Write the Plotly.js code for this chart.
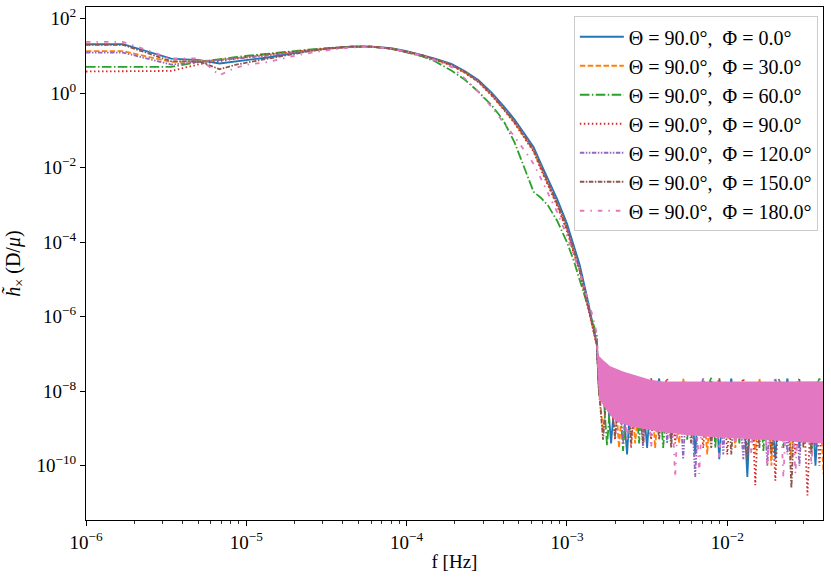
<!DOCTYPE html>
<html>
<head>
<meta charset="utf-8">
<script src="https://cdn.plot.ly/plotly-3.0.1.min.js"></script>
<style>html,body{margin:0;padding:0;background:#fff;}#chart{width:831px;height:578px;}</style>
</head>
<body>
<div id="chart"></div>
<script>
// ---- data ----
const SERIES_NAMES = [
  "Θ = 90.0°,\u00a0 Φ = 0.0°",
  "Θ = 90.0°,\u00a0 Φ = 30.0°",
  "Θ = 90.0°,\u00a0 Φ = 60.0°",
  "Θ = 90.0°,\u00a0 Φ = 90.0°",
  "Θ = 90.0°,\u00a0 Φ = 120.0°",
  "Θ = 90.0°,\u00a0 Φ = 150.0°",
  "Θ = 90.0°,\u00a0 Φ = 180.0°"
];

// frequencies of the smooth (low-frequency) part [Hz]
const SMOOTH_F = [1.0e-6, 1.7e-6, 3.4e-6, 5.1e-6, 6.8e-6, 8.5e-6, 1.02e-5, 1.36e-5, 1.87e-5, 2.55e-5,
  3.4e-5, 4.5e-5, 6.0e-5, 8.0e-5, 1.0e-4, 1.25e-4, 1.5e-4, 1.9e-4, 2.3e-4, 2.8e-4,
  3.4e-4, 4.0e-4, 4.7e-4, 5.5e-4, 6.2e-4, 6.9e-4, 7.6e-4, 8.7e-4, 1.0e-3, 1.1e-3,
  1.2e-3, 1.32e-3, 1.44e-3, 1.535e-3];

const H_PHI0 = [20.7, 20.7, 8.51, 7.76, 6.31, 7.08, 7.76, 9.12, 11.5, 14.1,
  16.2, 17.8, 17.8, 16.2, 13.5, 10.7, 8.51, 6.17, 3.98, 2.29,
  1.02, 0.468, 0.200, 0.0759, 0.0355, 0.0126, 0.00525, 0.00141, 3.16e-4, 8.91e-5,
  2.51e-5, 4.17e-6, 7.59e-7, 1.95e-7];
const H_PHI30 = [13.5, 13.5, 6.92, 7.24, 7.94, 8.71, 9.55, 10.7, 12.6, 14.5,
  16.2, 17.8, 17.8, 15.8, 13.0, 10.2, 8.04, 5.75, 3.63, 2.04,
  0.881, 0.394, 0.166, 0.0617, 0.0282, 0.00933, 0.0038, 0.001, 2.19e-4, 6.03e-5,
  1.74e-5, 2.95e-6, 6.03e-7, 1.74e-7];
const H_PHI60 = [5.11, 5.11, 5.13, 6.92, 8.32, 9.33, 10.2, 11.7, 13.5, 15.1,
  16.6, 17.8, 17.8, 15.5, 12.6, 9.77, 7.24, 4.07, 2.34, 1.10,
  0.468, 0.191, 0.049, 0.00832, 0.00224, 0.00155, 9.77e-4, 3.72e-4, 1.0e-4, 3.31e-5,
  1.02e-5, 2.82e-6, 8.32e-7, 3.16e-7];
const H_PHI90 = [3.84, 3.84, 3.98, 6.03, 7.41, 8.51, 9.55, 11.2, 12.9, 14.8,
  16.4, 17.8, 17.8, 15.8, 12.9, 10.1, 7.94, 5.62, 3.55, 2.0,
  0.851, 0.380, 0.158, 0.0589, 0.0266, 0.00871, 0.00355, 9.33e-4, 2.0e-4, 5.37e-5,
  1.58e-5, 2.75e-6, 5.75e-7, 1.70e-7];
const H_PHI120 = [12.4, 12.4, 5.89, 6.92, 7.59, 8.32, 9.12, 10.2, 12.0, 14.1,
  16.2, 17.8, 17.8, 16.0, 13.2, 10.5, 8.22, 5.89, 3.80, 2.14,
  0.955, 0.427, 0.180, 0.0676, 0.0309, 0.0107, 0.00437, 0.00115, 2.51e-4, 6.92e-5,
  1.91e-5, 3.24e-6, 6.61e-7, 1.82e-7];
const H_PHI150 = [20.0, 20.0, 7.24, 7.08, 4.43, 5.75, 6.76, 8.51, 11.0, 13.8,
  16.0, 17.8, 17.8, 16.0, 13.2, 10.5, 8.22, 5.89, 3.76, 2.14,
  0.933, 0.417, 0.176, 0.0661, 0.0302, 0.0105, 0.00427, 0.00112, 2.45e-4, 6.76e-5,
  1.86e-5, 3.16e-6, 6.46e-7, 1.82e-7];
const H_PHI180 = [23.9, 23.9, 8.57, 8.57, 3.05, 4.79, 5.89, 6.92, 9.55, 12.3,
  14.8, 17.0, 17.6, 15.8, 13.0, 10.2, 7.76, 5.13, 2.51, 1.10,
  0.417, 0.170, 0.0692, 0.0269, 0.0126, 0.00501, 0.00219, 6.31e-4, 1.48e-4, 4.68e-5,
  1.58e-5, 3.98e-6, 1.12e-6, 3.55e-7];

// frequencies of the noisy high-frequency part [Hz]
const NOISE_F = [0.001585, 0.001679, 0.001778, 0.001884, 0.001995, 0.002113, 0.002239, 0.002371, 0.002512, 0.002661,
  0.002818, 0.002985, 0.003162, 0.003350, 0.003548, 0.003758, 0.003981, 0.004217, 0.004467, 0.004732,
  0.005012, 0.005309, 0.005623, 0.005957, 0.006310, 0.006683, 0.007079, 0.007499, 0.007943, 0.008414,
  0.008913, 0.009441, 0.01, 0.01059, 0.01122, 0.01189, 0.01259, 0.01334, 0.01413, 0.01496,
  0.01585, 0.01679, 0.01778, 0.01884, 0.01995, 0.02113, 0.02239, 0.02371, 0.02512, 0.02661,
  0.02818, 0.02985, 0.03162, 0.03350, 0.03548, 0.03758, 0.03981];

const N_PHI0 = [1e-8,6e-9,1.2e-8,4e-10,8e-9,1e-8,5e-9,2e-10,1.2e-8,4e-9,
  1e-8,6e-9,3e-10,1.2e-8,5e-9,2.2e-8,4e-9,1e-8,5e-10,8e-9,
  1.2e-8,4e-9,1e-8,6e-9,2e-10,1.2e-8,5e-9,1e-8,3e-9,1.2e-8,
  1.5e-10,8e-9,5e-9,2.2e-8,4e-9,1e-8,6e-9,5e-11,1.2e-8,4e-9,
  1e-8,6e-9,1.2e-8,3e-9,1.5e-10,1e-8,5e-9,2.2e-8,4e-9,1e-8,
  3e-10,1.2e-8,5e-9,1e-8,1e-10,6e-9,1.2e-8];
const N_PHI30 = [1.2e-8,8e-10,1e-8,7e-9,1.2e-8,3e-10,1e-8,5e-9,1.2e-8,4e-10,
  6e-9,1e-8,4e-9,1.2e-8,3e-10,8e-9,1.2e-8,5e-9,1e-8,4e-9,
  4e-10,2.2e-8,6e-9,1.2e-8,4e-9,1e-8,6e-9,2e-10,1.2e-8,5e-9,
  1e-8,4e-9,1.2e-8,6e-9,3e-10,1e-8,5e-9,1.2e-8,4e-9,2e-10,
  2.2e-8,6e-9,1e-8,1e-10,1.2e-8,5e-9,1e-8,4e-9,1.5e-10,1.2e-8,
  6e-9,1e-8,5e-10,1.2e-8,4e-9,1e-8,6e-11];
const N_PHI60 = [8e-9,1.2e-8,3.5e-10,1e-8,6e-9,1.2e-8,2.5e-10,1e-8,5e-9,1.2e-8,
  4e-10,2.2e-8,6e-9,1e-8,4e-9,1.2e-8,3e-10,1e-8,6e-9,1.2e-8,
  4e-9,1e-8,5e-10,1.2e-8,6e-9,1e-8,4e-9,1.2e-8,2.3e-8,3e-10,
  1e-8,6e-9,1.2e-8,4e-9,1e-8,4e-10,1.2e-8,6e-9,1e-8,4e-9,
  1.2e-8,2.5e-10,1e-8,6e-9,1.2e-8,2.2e-8,3e-10,1e-8,5e-9,1.2e-8,
  4e-9,1e-8,6e-9,2e-10,1.2e-8,2.2e-8,1e-8];
const N_PHI90 = [1e-8,7e-9,1.2e-8,8e-9,5e-10,1e-8,6e-9,1.2e-8,3e-10,1e-8,
  5e-9,1.2e-8,4e-9,5e-10,1e-8,6e-9,1.2e-8,2.2e-8,5e-9,4e-10,
  1e-8,6e-9,1.2e-8,4e-9,1e-8,6e-9,3e-10,1.2e-8,5e-9,1e-8,
  4e-9,1.2e-8,2e-10,1e-8,6e-9,1.2e-8,2.2e-8,5e-9,1e-8,3e-11,
  1.2e-8,6e-9,1e-8,4e-9,4e-11,1.2e-8,6e-9,1e-8,5e-9,2e-10,
  1.2e-8,6e-9,1.6e-11,1e-8,5e-9,1e-10,1.2e-8];
const N_PHI120 = [1.2e-8,1e-8,7e-9,1.2e-8,8e-9,1e-8,4e-10,1.2e-8,5e-9,2.2e-8,
  6e-9,3e-10,1e-8,5e-9,1.2e-8,4e-9,1e-8,4e-10,1.2e-8,6e-9,
  1e-8,1.5e-10,1.2e-8,5e-9,5e-11,1e-8,2.2e-8,6e-9,1e-8,4e-9,
  1.2e-8,2e-10,1e-8,6e-9,1.2e-8,4e-9,1.5e-10,1e-8,6e-9,1.2e-8,
  4e-9,1e-8,1e-10,1.2e-8,2.2e-8,6e-9,1e-8,2e-10,1.2e-8,5e-9,
  1e-10,1e-8,6e-9,1.2e-8,3e-10,1e-8,5e-9];
const N_PHI150 = [1e-8,5e-10,1.2e-8,7e-9,6e-10,1e-8,6e-9,1.2e-8,4e-10,1e-8,
  5e-9,4e-10,1.2e-8,2.2e-8,6e-9,5e-10,1e-8,1.2e-8,3e-10,1e-8,
  6e-9,1.2e-8,4e-9,4e-10,1e-8,6e-9,1.2e-8,4e-9,3e-10,1e-8,
  2.2e-8,6e-9,1.2e-8,2e-10,1e-8,5e-9,1.2e-8,1.5e-10,1e-8,6e-9,
  3e-10,1.2e-8,5e-9,2e-10,1e-8,1.2e-8,5e-10,1e-8,2.5e-11,1.2e-8,
  2.2e-8,3e-10,1e-8,2e-10,1.2e-8,6e-9,5e-10];
const N_PHI180 = [1e-8,1.2e-8,6e-9,1e-8,1.2e-8,8e-9,1e-8,5e-10,1.2e-8,6e-9,
  1e-8,4e-9,1.2e-8,3e-10,1e-8,6e-9,1.2e-8,4e-9,1e-8,5e-11,
  1.2e-8,6e-9,1e-8,4e-9,1.2e-8,6e-11,1e-8,6e-9,1.2e-8,4e-9,
  1.5e-10,1e-8,6e-9,1.2e-8,3e-10,1e-8,4e-9,1.2e-8,2e-10,1e-8,
  6e-9,1.2e-8,1e-10,1e-8,4e-9,1.2e-8,5e-11,1e-8,6e-9,6e-11,
  1.2e-8,4e-9,1e-8,1e-10,1.2e-8,6e-9,3e-10];

// envelope of the dense noise band (upper and lower edge)
const BAND_TOP_F = [1.535e-3, 1.585e-3, 1.698e-3, 1.862e-3, 2.239e-3, 2.818e-3, 3.311e-3, 3.981e-3, 1.0e-2, 1.995e-2, 3.981e-2];
const BAND_TOP   = [1.95e-7, 8.91e-8, 6.61e-8, 4.68e-8, 3.39e-8, 2.51e-8, 2.04e-8, 1.82e-8, 1.78e-8, 1.82e-8, 1.86e-8];
const BAND_BOT_F = [1.535e-3, 1.585e-3, 1.698e-3, 1.862e-3, 2.042e-3, 2.512e-3, 3.981e-3, 6.31e-3, 1.0e-2, 1.585e-2, 2.512e-2, 3.981e-2];
const BAND_BOT   = [1.26e-7, 6.31e-9, 3.98e-9, 2.24e-9, 1.51e-9, 1.12e-9, 7.94e-10, 6.31e-10, 5.62e-10, 5.01e-10, 4.47e-10, 3.98e-10];

const X_TICKS = [1e-6, 1e-5, 1e-4, 1e-3, 1e-2];
const X_TICKTEXT = ["10<sup>−6</sup>", "10<sup>−5</sup>", "10<sup>−4</sup>", "10<sup>−3</sup>", "10<sup>−2</sup>"];
const X_MINOR_TICKS = [2e-6,3e-6,4e-6,5e-6,6e-6,7e-6,8e-6,9e-6,
  2e-5,3e-5,4e-5,5e-5,6e-5,7e-5,8e-5,9e-5,
  2e-4,3e-4,4e-4,5e-4,6e-4,7e-4,8e-4,9e-4,
  2e-3,3e-3,4e-3,5e-3,6e-3,7e-3,8e-3,9e-3,
  2e-2,3e-2];
const Y_TICKS = [1e-10, 1e-8, 1e-6, 1e-4, 1e-2, 1, 100];
const Y_TICKTEXT = ["10<sup>−10</sup>", "10<sup>−8</sup>", "10<sup>−6</sup>", "10<sup>−4</sup>", "10<sup>−2</sup>", "10<sup>0</sup>", "10<sup>2</sup>"];

// ---- styling ----
const COLORS = ["#1f77b4", "#ff7f0e", "#2ca02c", "#d62728", "#9467bd", "#8c564b", "#e377c2"];
const DASHES = ["solid", "5.5px,2.4px", "9.6px,2.4px,1.5px,2.4px", "1.5px,2.5px",
  "4.5px,1.5px,1.5px,1.5px,1.5px,1.5px", "4.5px,1.5px,1.5px,1.5px", "4.5px,6px,1.5px,6px"];

const SMOOTH = [H_PHI0, H_PHI30, H_PHI60, H_PHI90, H_PHI120, H_PHI150, H_PHI180];
const NOISE = [N_PHI0, N_PHI30, N_PHI60, N_PHI90, N_PHI120, N_PHI150, N_PHI180];

const FONT = "Liberation Serif, Times New Roman, serif";
const traces = [];
for (let k = 0; k < SERIES_NAMES.length; k++) {
  traces.push({
    x: SMOOTH_F.concat(NOISE_F),
    y: SMOOTH[k].concat(NOISE[k]),
    name: SERIES_NAMES[k],
    type: "scatter",
    mode: "lines",
    line: {color: COLORS[k], width: 1.8, dash: DASHES[k]},
    hoverinfo: "skip"
  });
}
// dense pink noise band (drawn on top, as the last series is in the reference)
traces.push({
  x: BAND_TOP_F.concat(BAND_BOT_F.slice().reverse()),
  y: BAND_TOP.concat(BAND_BOT.slice().reverse()),
  type: "scatter", mode: "lines", fill: "toself",
  fillcolor: COLORS[6], line: {width: 0, color: COLORS[6]},
  showlegend: false, hoverinfo: "skip"
});

const layout = {
  width: 831, height: 578,
  margin: {l: 86, r: 8, t: 7, b: 58},
  paper_bgcolor: "#fff", plot_bgcolor: "#fff",
  font: {family: FONT, size: 19, color: "#000"},
  showlegend: true,
  legend: {
    x: 0.993, y: 0.982, xanchor: "right", yanchor: "top",
    bgcolor: "rgba(255,255,255,0.8)", bordercolor: "#cccccc", borderwidth: 1,
    itemwidth: 44,
    font: {family: FONT, size: 20, color: "#000"}
  },
  xaxis: {
    type: "log", range: [-6, -1.403],
    showgrid: false, zeroline: false,
    showline: true, mirror: true, linecolor: "#000", linewidth: 1,
    ticks: "outside", ticklen: 5, tickwidth: 1, tickcolor: "#000",
    tickmode: "array", tickvals: X_TICKS, ticktext: X_TICKTEXT,
    minor: {tickmode: "array", tickvals: X_MINOR_TICKS, ticks: "outside", ticklen: 3, tickwidth: 0.8, tickcolor: "#000", showgrid: false},
    tickfont: {family: FONT, size: 19},
    title: {text: "f [Hz]", font: {family: FONT, size: 19}, standoff: 2}
  },
  yaxis: {
    type: "log", range: [-11.456, 2.316],
    showgrid: false, zeroline: false,
    showline: true, mirror: true, linecolor: "#000", linewidth: 1,
    ticks: "outside", ticklen: 5, tickwidth: 1, tickcolor: "#000",
    tickmode: "array", tickvals: Y_TICKS, ticktext: Y_TICKTEXT,
    tickfont: {family: FONT, size: 19},
    title: {text: "<i>h̃</i><sub>×</sub> (D/<i>μ</i>)", font: {family: FONT, size: 20}, standoff: 10}
  }
};

Plotly.newPlot("chart", traces, layout, {staticPlot: true, displayModeBar: false});
</script>
</body>
</html>
